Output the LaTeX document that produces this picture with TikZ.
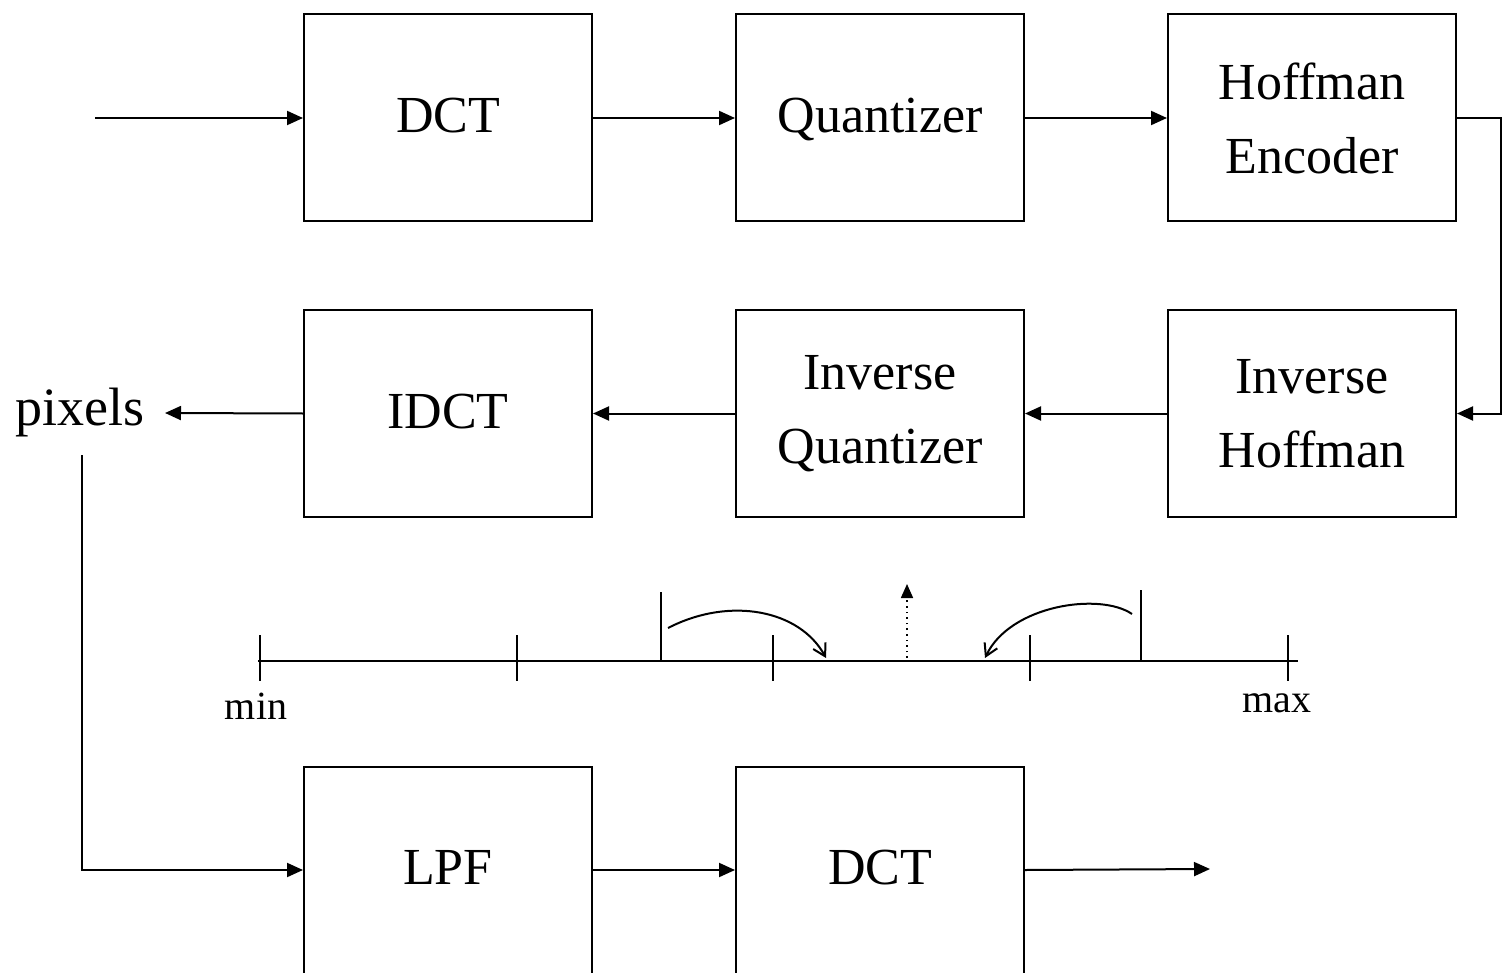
\documentclass[tikz,border=0pt]{standalone}
\usepackage{fontspec}
\setmainfont{Liberation Serif}
\usetikzlibrary{arrows.meta}
\begin{document}
\begin{tikzpicture}[x=0.5pt,y=-0.5pt,
  blk/.style={draw,line width=1pt,minimum width=144pt,minimum height=103.5pt,inner sep=0pt,align=center,font=\fontsize{26}{37}\selectfont},
  conn/.style={line width=1pt,-{Triangle[length=8pt,width=7pt]}},
  lbl/.style={font=\fontsize{20}{24}\selectfont,inner sep=0pt}]
\useasboundingbox (0,0) rectangle (1503,973);
% row 1
\node[blk] (dct1) at (448,118) {DCT\strut};
\node[blk] (quant) at (880,118) {Quantizer\strut};
\node[blk] (henc) at (1312,118) {Hoffman\\Encoder};
% row 2
\node[blk] (idct) at (448,413.5) {IDCT\strut};
\node[blk] (iquant) at (880,413.5) {Inverse\\Quantizer};
\node[blk] (ihoff) at (1312,413.5) {Inverse\\Hoffman};
% row 3
\node[blk] (lpf) at (448,870) {LPF\strut};
\node[blk] (dct2) at (880,870) {DCT\strut};
\node[font=\fontsize{27}{30}\selectfont,inner sep=0pt] (pix) at (80,413) {pixels};
\coordinate (in) at (95,118);
\coordinate (out) at (1210,869);
\coordinate (pixdown) at (82,455);
% connectors
\draw[conn] (in) -- (dct1.west);
\draw[conn] (dct1.east) -- (quant.west);
\draw[conn] (quant.east) -- (henc.west);
\draw[conn] (henc.east) -- (1501,118) |- (ihoff.east);
\draw[conn] (ihoff.west) -- (iquant.east);
\draw[conn] (iquant.west) -- (idct.east);
\draw[conn] (idct.west) -- (165,413);
\draw[conn] (pixdown) |- (lpf.west);
\draw[conn] (lpf.east) -- (dct2.west);
\draw[conn] (dct2.east) -- (out);
% number line
\draw[line width=1pt] (258,661) -- (1298,661);
\foreach \x in {260,517,773,1030,1288} \draw[line width=1pt] (\x,635) -- (\x,681);
\draw[line width=1pt] (661,592) -- (661,661);
\draw[line width=1pt] (1141,590) -- (1141,661);
\node[lbl] (mn) at (256,706) {min};
\node[lbl] (mx) at (1277,703) {max};
\draw[line width=1pt,-{Straight Barb[length=6pt,width=7pt]}] (668,628) .. controls (730,596) and (800,610) .. (826,658);
\draw[line width=1pt,-{Straight Barb[length=6pt,width=7pt]}] (1132,614) .. controls (1100,592) and (1010,605) .. (985,658);
\draw[line width=0.8pt,dotted,-{Triangle[length=7pt,width=6pt]}] (907,658) -- (907,584);
\end{tikzpicture}
\end{document}
